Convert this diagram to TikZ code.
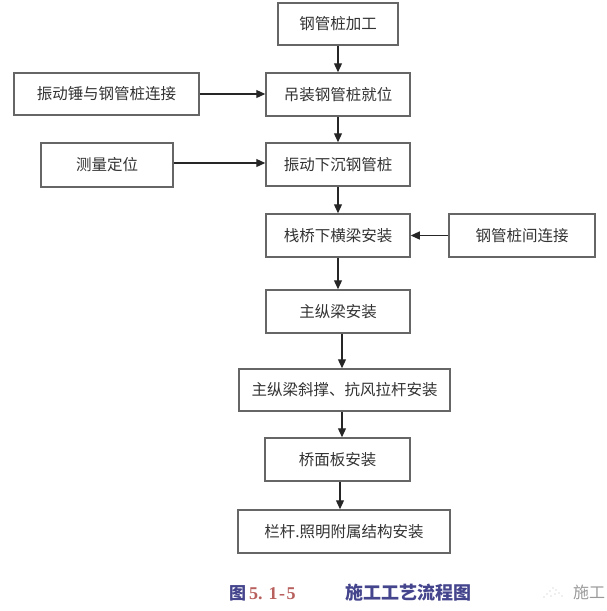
\documentclass[tikz,border=0pt]{standalone}
\usepackage{fontspec}
\setmainfont{Liberation Serif}
\newfontfamily\cjk{Noto Sans CJK SC}
\usetikzlibrary{arrows.meta,calc}
\definecolor{boxline}{HTML}{666666}
\definecolor{txt}{HTML}{333333}
\definecolor{capblue}{HTML}{45458E}
\definecolor{capred}{HTML}{B8605E}
\definecolor{wm}{HTML}{9A9A9A}
\tikzset{
  stepbox/.style={draw=boxline, line width=1.5pt, fill=white, inner sep=0pt,
    minimum height=42pt, font=\cjk\fontsize{15.5}{17}\selectfont, text=txt},
  arr/.style={draw=black!85, line width=1.2pt, -{Triangle[length=9pt,width=8pt]}},
}
\begin{document}
\begin{tikzpicture}[x=1pt,y=-1pt]
\useasboundingbox (0,0) rectangle (607,611);
\node[stepbox, minimum width=120pt] (b1) at (338,24) {钢管桩加工};
\node[stepbox, minimum width=144pt, minimum height=43pt] (b2) at (338,94.5) {吊装钢管桩就位};
\node[stepbox, minimum width=185pt] (l1) at (106.5,94) {振动锤与钢管桩连接};
\node[stepbox, minimum width=132pt, minimum height=44pt] (l2) at (107,165) {测量定位};
\node[stepbox, minimum width=144pt, minimum height=43pt] (b3) at (338,164.5) {振动下沉钢管桩};
\node[stepbox, minimum width=144pt, minimum height=43pt] (b4) at (338,235.5) {栈桥下横梁安装};
\node[stepbox, minimum width=146pt, minimum height=43pt] (r1) at (522,235.5) {钢管桩间连接};
\node[stepbox, minimum width=144pt, minimum height=43pt] (b5) at (338,311.5) {主纵梁安装};
\node[stepbox, minimum width=211pt] (b6) at (344.5,390) {主纵梁斜撑、抗风拉杆安装};
\node[stepbox, minimum width=145pt, minimum height=43pt] (b7) at (337.5,459.5) {桥面板安装};
\node[stepbox, minimum width=212pt, minimum height=43pt] (b8) at (344,531.5) {栏杆.照明附属结构安装};

\draw[arr] (b1.south) -- (b2.north);
\draw[arr] (b2.south) -- (b3.north);
\draw[arr] (b3.south) -- (b4.north);
\draw[arr] (b4.south) -- (b5.north);
\draw[arr] ([xshift=4pt]b5.south) -- ([xshift=4pt]b5.south |- b6.north);
\draw[arr] ([xshift=4.5pt]b7.north |- b6.south) -- ([xshift=4.5pt]b7.north);
\draw[arr] ([xshift=2.5pt]b7.south) -- ([xshift=2.5pt]b7.south |- b8.north);
\draw[arr] (l1.east) -- (l1.east -| b2.west);
\draw[arr] ([yshift=2pt]l2.east) -- ([yshift=2pt]l2.east -| b3.west);
\draw[arr] (r1.west) -- (r1.west -| b4.east);

\node[anchor=west, inner sep=0pt] (cap1) at (229,593)
  {{\cjk\bfseries\fontsize{17}{18}\selectfont\color{capblue}图}\hspace{3pt}{\bfseries\fontsize{18}{18}\selectfont\color{capred}5.\hspace{6pt}1\hspace{1.5pt}-\hspace{1.5pt}5}};
\node[anchor=west, inner sep=0pt, text=capblue, font=\cjk\bfseries\fontsize{18}{18}\selectfont] (cap2) at (345,593) {施工工艺流程图};
\node[anchor=west, inner sep=0pt, text=wm, font=\cjk\fontsize{16}{16}\selectfont] (wm1) at (573,592) {施工};
\coordinate (ic) at (554,593);
\foreach \dx/\dy in {-10/4,-7/1,-4/-2,-1/-5,2/-3,5/0,8/3,-3/3,1/1}
  \fill[wm!70] ($(ic)+(\dx,\dy)$) circle (0.7pt);
\end{tikzpicture}
\end{document}
